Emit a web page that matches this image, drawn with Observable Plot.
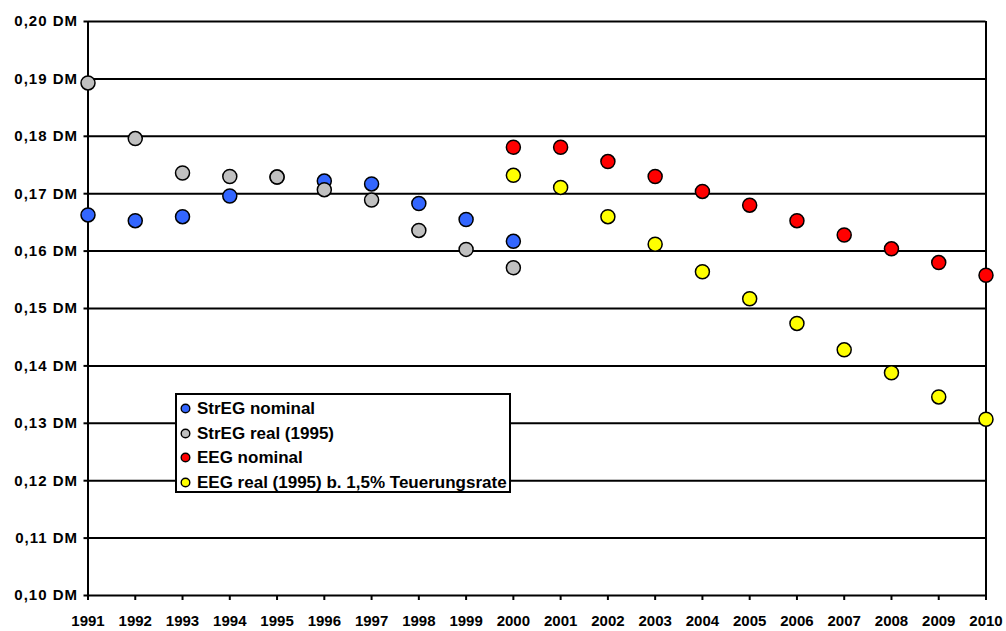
<!DOCTYPE html>
<html>
<head>
<meta charset="utf-8">
<script src="https://cdn.jsdelivr.net/npm/d3@7"></script>
<script src="https://cdn.jsdelivr.net/npm/@observablehq/plot@0.6"></script>
<style>
  html, body { margin: 0; padding: 0; background: #fff; }
  #wrap { position: relative; width: 1006px; height: 631px; font-family: "Liberation Sans", Arial, sans-serif; }
  #wrap svg { display: block; }
  g[aria-label="y-axis tick label"] text { letter-spacing: 1px; }
  .legend {
    position: absolute; left: 175px; top: 393px; width: 336px; height: 100px;
    box-sizing: border-box; border: 2px solid #000; background: #fff; overflow: hidden;
    padding-top: 1.5px;
  }
  .legend .row { display: flex; align-items: center; height: 24.5px; font-size: 17px; line-height: 19px; font-weight: bold; color: #000; white-space: nowrap; }
  .legend .row svg { margin-left: 3px; margin-right: 6px; flex: none; }
</style>
</head>
<body>
<div id="wrap"></div>
<script>
// Vergütung je kWh: Stromeinspeisungsgesetz (StrEG) und EEG, nominal und real (1995)
const stregYears = [1991, 1992, 1993, 1994, 1995, 1996, 1997, 1998, 1999, 2000];
const stregNominal = [0.1663, 0.1653, 0.1660, 0.1696, 0.1729, 0.1722, 0.1717, 0.1683, 0.1655, 0.1617];
const stregReal = [0.1893, 0.1796, 0.1736, 0.1730, 0.1729, 0.1707, 0.1689, 0.1636, 0.1603, 0.1571];

const eegYears = [2000, 2001, 2002, 2003, 2004, 2005, 2006, 2007, 2008, 2009, 2010];
const eegNominal = [0.1781, 0.1781, 0.1756, 0.1730, 0.1704, 0.1680, 0.1653, 0.1628, 0.1604, 0.1580, 0.1558];
const eegReal = [0.1732, 0.1711, 0.1660, 0.1612, 0.1564, 0.1517, 0.1474, 0.1428, 0.1388, 0.1346, 0.1307];

const seriesNames = ["StrEG nominal", "StrEG real (1995)", "EEG nominal", "EEG real (1995) b. 1,5% Teuerungsrate"];
const seriesColors = ["#3366FF", "#C0C0C0", "#FF0000", "#FFFF00"];

const xTicks = [1991, 1992, 1993, 1994, 1995, 1996, 1997, 1998, 1999, 2000,
                2001, 2002, 2003, 2004, 2005, 2006, 2007, 2008, 2009, 2010];
const yTicks = [0.10, 0.11, 0.12, 0.13, 0.14, 0.15, 0.16, 0.17, 0.18, 0.19, 0.20];

const toRows = (years, values, series) => years.map((year, i) => ({year, value: values[i], series}));
const data = [
  ...toRows(stregYears, stregNominal, seriesNames[0]),
  ...toRows(stregYears, stregReal, seriesNames[1]),
  ...toRows(eegYears, eegNominal, seriesNames[2]),
  ...toRows(eegYears, eegReal, seriesNames[3])
];

const fmtDM = d => d.toFixed(2).replace(".", ",") + " DM";

const chart = Plot.plot({
  width: 1006,
  height: 631,
  marginLeft: 87.5,
  marginRight: 20.5,
  marginTop: 21,
  marginBottom: 36,
  style: {fontFamily: "'Liberation Sans', Arial, sans-serif", fontWeight: "bold", color: "#000", background: "#fff"},
  x: {domain: [1991, 2010], label: null},
  y: {domain: [0.10, 0.20], label: null},
  color: {domain: seriesNames, range: seriesColors},
  marks: [
    Plot.ruleY(yTicks, {stroke: "#000", strokeWidth: 2}),
    Plot.ruleX([1991, 2010], {stroke: "#000", strokeWidth: 2}),
    Plot.axisY({ticks: yTicks, tickFormat: fmtDM, tickSize: 4, tickPadding: 6, fontSize: 15, strokeWidth: 2, label: null}),
    Plot.axisX({ticks: xTicks, tickFormat: d => String(d), tickSize: 5, tickPadding: 15, fontSize: 15, strokeWidth: 2, label: null}),
    Plot.dot(data, {x: "year", y: "value", fill: "series", r: 7, stroke: "#000", strokeWidth: 1.5})
  ]
});

const wrap = document.getElementById("wrap");
wrap.appendChild(chart);

// Legende
const legend = document.createElement("div");
legend.className = "legend";
seriesNames.forEach((name, i) => {
  const row = document.createElement("div");
  row.className = "row";
  row.innerHTML = `<svg width="11" height="11"><circle cx="5.5" cy="5.5" r="4.3" fill="${seriesColors[i]}" stroke="#000" stroke-width="1.4"/></svg><span>${name}</span>`;
  legend.appendChild(row);
});
wrap.appendChild(legend);
</script>
</body>
</html>
